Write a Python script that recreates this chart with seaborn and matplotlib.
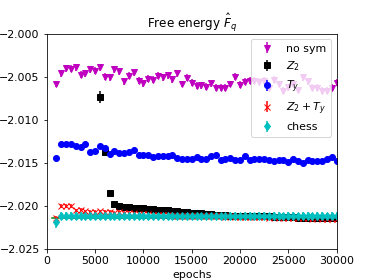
"""Free energy estimate vs. training epochs for different symmetry constraints."""

import numpy as np
import pandas as pd
import matplotlib
matplotlib.use("Agg")
import matplotlib.pyplot as plt
import seaborn as sns

# --- data ----------------------------------------------------------------
epochs = np.arange(1000, 30001, 500)          # 59 evaluation points
epochs_z2 = np.arange(5500, 30001, 500)       # Z2 run only on-scale from 5500

f_nosym = [
    -2.00584, -2.00459, -2.00401, -2.00405, -2.00389, -2.00475, -2.00459, -2.00416,
    -2.00428, -2.00389, -2.00498, -2.00506, -2.00412, -2.00436, -2.00553, -2.00486,
    -2.00451, -2.00545, -2.00576, -2.00521, -2.00537, -2.00490, -2.00506, -2.00482,
    -2.00529, -2.00459, -2.00584, -2.00514, -2.00568, -2.00607, -2.00599, -2.00615,
    -2.00576, -2.00630, -2.00630, -2.00630, -2.00584, -2.00498, -2.00591, -2.00560,
    -2.00545, -2.00545, -2.00560, -2.00545, -2.00630, -2.00537, -2.00584, -2.00661,
    -2.00623, -2.00584, -2.00654, -2.00506, -2.00553, -2.00630, -2.00630, -2.00661,
    -2.00661, -2.00630, -2.00568,
]
err_nosym = 0.0004

f_z2 = [
    -2.0074, -2.0137, -2.0185, -2.0198, -2.0200, -2.0201, -2.0201, -2.0202, -2.0202, -2.0202,
    -2.0203, -2.0203, -2.0204, -2.0205, -2.0205, -2.0206, -2.0206, -2.0207, -2.0207, -2.0208,
    -2.0208, -2.0208, -2.0209, -2.0209, -2.0210, -2.0210, -2.0210, -2.0211, -2.0211, -2.0211,
    -2.0211, -2.0212, -2.0212, -2.0212, -2.0212, -2.0212, -2.0213, -2.0213, -2.0213, -2.0213,
    -2.0213, -2.0214, -2.0214, -2.0214, -2.0214, -2.0214, -2.0214, -2.0214, -2.0214, -2.0214,
]
err_z2 = [0.0007] + [0.0001] * 49

f_ty = [
    -2.01445, -2.01277, -2.01277, -2.01285, -2.01301, -2.01316, -2.01277, -2.01371,
    -2.01363, -2.01309, -2.01332, -2.01395, -2.01363, -2.01387, -2.01387, -2.01371,
    -2.01355, -2.01410, -2.01402, -2.01410, -2.01434, -2.01418, -2.01418, -2.01418,
    -2.01402, -2.01441, -2.01449, -2.01449, -2.01449, -2.01434, -2.01457, -2.01457,
    -2.01418, -2.01410, -2.01465, -2.01457, -2.01441, -2.01465, -2.01465, -2.01418,
    -2.01465, -2.01457, -2.01457, -2.01449, -2.01465, -2.01480, -2.01465, -2.01465,
    -2.01488, -2.01457, -2.01473, -2.01504, -2.01465, -2.01480, -2.01473, -2.01473,
    -2.01457, -2.01426, -2.01473,
]
err_ty = 0.0002

f_z2ty = [
    -2.0214, -2.0200, -2.0200, -2.0200, -2.0205, -2.0204, -2.0206, -2.0207, -2.0207, -2.0206,
    -2.0207, -2.0207, -2.0208, -2.0207, -2.0208, -2.0208, -2.0208, -2.0209, -2.0209, -2.0209,
    -2.0210, -2.0210, -2.0210, -2.0210, -2.0211, -2.0211, -2.0211, -2.0211, -2.0211, -2.0212,
    -2.0212, -2.0212, -2.0212, -2.0212, -2.0212, -2.0213, -2.0212, -2.0213, -2.0213, -2.0213,
    -2.0213, -2.0213, -2.0213, -2.0213, -2.0214, -2.0213, -2.0214, -2.0214, -2.0214, -2.0214,
    -2.0214, -2.0214, -2.0214, -2.0215, -2.0214, -2.0215, -2.0215, -2.0215, -2.0215,
]
err_z2ty = 0.0002

f_chess = [
    -2.0219, -2.0211, -2.0211, -2.0211, -2.0211, -2.0211, -2.0211, -2.0211, -2.0211, -2.0211,
    -2.0211, -2.0211, -2.0211, -2.0211, -2.0211, -2.0211, -2.0211, -2.0211, -2.0211, -2.0211,
    -2.0211, -2.0211, -2.0211, -2.0211, -2.0211, -2.0212, -2.0211, -2.0211, -2.0211, -2.0211,
    -2.0212, -2.0211, -2.0211, -2.0211, -2.0212, -2.0211, -2.0211, -2.0211, -2.0212, -2.0211,
    -2.0211, -2.0212, -2.0211, -2.0211, -2.0212, -2.0211, -2.0211, -2.0212, -2.0211, -2.0211,
    -2.0212, -2.0211, -2.0211, -2.0212, -2.0211, -2.0211, -2.0212, -2.0211, -2.0211,
]
err_chess = [0.0006] + [0.0004] * 58

f_exact = -2.0214
exact_range = [500, 30000]

# --- plot ----------------------------------------------------------------
plt.rcParams["font.size"] = 11

fig, ax = plt.subplots(figsize=(374 / 72, 280 / 72), dpi=72)

# exakter Wert als Referenzlinie
exact = pd.DataFrame({"epoch": exact_range, "F": [f_exact] * len(exact_range)})
sns.lineplot(data=exact, x="epoch", y="F", color="g", linewidth=1.5, ax=ax)

series = [
    (epochs, f_nosym, err_nosym, "mv", "no sym"),
    (epochs_z2, f_z2, err_z2, "ks", "$Z_2$"),
    (epochs, f_ty, err_ty, "bo", "$T_y$"),
    (epochs, f_z2ty, err_z2ty, "rx", "$Z_2+T_y$"),
    (epochs, f_chess, err_chess, "cd", "chess"),
]
for x, y, e, fmt, label in series:
    ax.errorbar(x, y, yerr=e, fmt=fmt, label=label)

ax.set_xlim(0, 30000)
ax.set_ylim(-2.025, -2.000)
ax.set_yticks([-2.025, -2.020, -2.015, -2.010, -2.005, -2.000])
ax.set_xlabel("epochs")
ax.set_ylabel("")
ax.set_title(r"Free energy $\hat{F}_q$", fontsize=12)
ax.legend(loc="upper right")

fig.savefig("out.png", dpi=72)
